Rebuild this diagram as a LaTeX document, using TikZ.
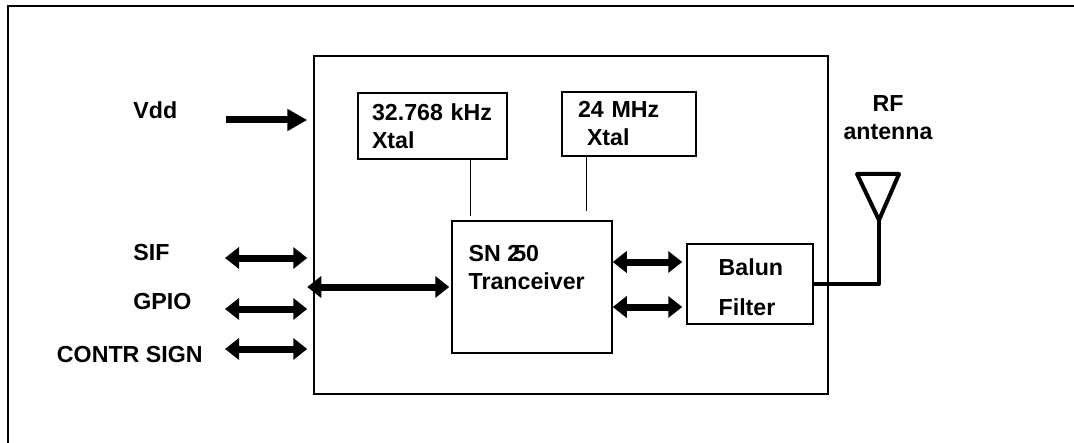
\documentclass[tikz,border=0pt]{standalone}
\usepackage{fontspec}
\setmainfont{Liberation Sans}
\usetikzlibrary{arrows.meta,calc}
\tikzset{
  lbl/.style={font=\fontsize{11.6}{14}\selectfont\bfseries,inner sep=0pt},
  blk/.style={draw,line width=0.75pt,inner sep=0pt},
  fat/.style={line width=3.5pt,-{Triangle[length=10pt,width=10.5pt]},shorten >=3pt},
  dbl/.style={line width=3.5pt,{Triangle[length=7pt,width=10.5pt]}-{Triangle[length=7pt,width=10.5pt]}},
}
\begin{document}
\begin{tikzpicture}[x=0.5pt,y=-0.5pt]
\useasboundingbox (0,0) rectangle (1074,443);
\draw[line width=1.2pt] (8,443)--(8,6)--(1074,6);
\node[blk,minimum width=257pt,minimum height=169pt] (main) at (571,225) {};
\node[blk,lbl,minimum height=33pt,inner xsep=7pt,text width=60.5pt,align=left] (xa) at (432.5,126) {32.768~kHz\\Xtal};
\node[blk,lbl,minimum height=32pt,inner xsep=8pt,text width=51pt,align=left] (xb) at (629,124) {24 MHz\\\hspace*{4.5pt}Xtal};
\node[blk,minimum width=80pt,minimum height=66pt] (sn) at (532,287) {};
\node[lbl,anchor=north west,align=left] (snt) at ($(sn.north west)+(17,25)$) {SN 2\kern-3.5pt50\\Tranceiver};
\node[blk,minimum width=63pt,minimum height=40pt] (bal) at (750,284) {};
\node[lbl,anchor=north west,align=left] (balt) at ($(bal.north west)+(32,15)$) {Balun\\[6pt]Filter};
\coordinate (feed) at (879,220);
\draw[line width=2pt,line join=round,line cap=round] (bal.east) -| (feed);
\draw[line width=2pt,line join=round] (feed) -- (857,174) -- (899,174) -- cycle;
\node[lbl,align=center,anchor=north] (rf) at (888,95) {RF\\antenna};
\node[lbl,anchor=west] (vdd) at (133,110) {Vdd};
\node[lbl,anchor=west] (sifl) at (133,253) {SIF};
\node[lbl,anchor=west] (gpiol) at (133,302) {GPIO};
\node[lbl,anchor=east] (ctll) at (203,355) {CONTR SIGN};
\coordinate (vin) at (226,120);
\draw[fat] (vin) -- (vin -| main.west);
\foreach \nm/\yy in {sif/258,gpio/309,ctl/349}{
  \coordinate (\nm) at (225,\yy);
  \draw[dbl,shorten >=3pt] (\nm) -- (\nm -| main.west);
}
\draw[dbl,shorten >=1pt] ($(main.west |- sn.west)+(-6,0)$) -- (sn.west);
\foreach \dy in {-22,23}{\draw[dbl,shorten >=2pt] ($(sn.east |- bal.west)+(0,\dy)$) -- ($(bal.west)+(0,\dy)$);}
\draw[line width=0.6pt] ($(xa.south -| sn.north west)+(19,0)$) -- ($(sn.north west)+(19,-4)$);
\draw[line width=0.6pt] ($(xb.south west)+(25,0)$) -- ($(xb.south west |- sn.north)+(25,-9)$);
\end{tikzpicture}
\end{document}
